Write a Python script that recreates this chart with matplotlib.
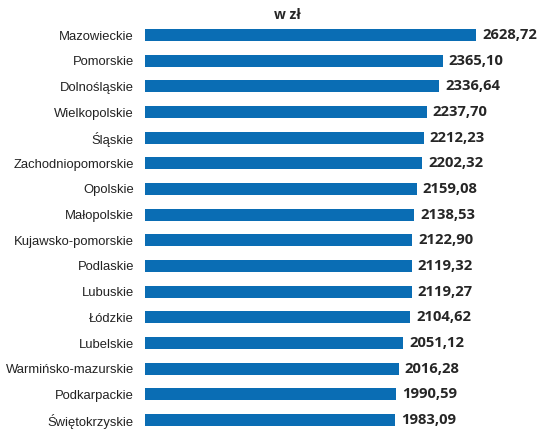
import matplotlib.pyplot as plt
import numpy as np

regions = ["Mazowieckie", "Pomorskie", "Dolnośląskie", "Wielkopolskie", "Śląskie",
           "Zachodniopomorskie", "Opolskie", "Małopolskie", "Kujawsko-pomorskie",
           "Podlaskie", "Lubuskie", "Łódzkie", "Lubelskie", "Warmińsko-mazurskie",
           "Podkarpackie", "Świętokrzyskie"]
values = [2628.72, 2365.10, 2336.64, 2237.70, 2212.23, 2202.32, 2159.08, 2138.53,
          2122.90, 2119.32, 2119.27, 2104.62, 2051.12, 2016.28, 1990.59, 1983.09]

# bar centres: first at y=35 px, last at y=420 px
step = (420 - 35) / 15
top = 35 - step / 2
h = step * 16

fig = plt.figure(figsize=(5.38, 4.29), dpi=100)
ax = fig.add_axes([145 / 538, 1 - (top + h) / 429, 393 / 538, h / 429])

y = np.arange(len(regions))
ax.barh(y, values, height=12 / step, color="#0a6db4")
ax.set_xlim(0, 393 / 0.1259)
ax.set_ylim(15.5, -0.5)

for yi, v in zip(y, values):
    ax.text(v + 48, yi, f"{v:.2f}".replace(".", ","), va="center", ha="left",
            fontsize=10.6, fontweight="bold", family="Open Sans", color="#262626")

ax.set_yticks(y)
ax.set_yticklabels(regions, fontsize=9.35, family="Liberation Sans", color="#222222")
ax.tick_params(axis="y", length=0, pad=8)
ax.set_xticks([])
for s in ax.spines.values():
    s.set_visible(False)

fig.text(287 / 538, 1 - 15 / 429, "w zł", ha="center", va="center",
         fontsize=10, fontweight="bold", family="Open Sans", color="#262626")

fig.savefig("out.png", dpi=100)
